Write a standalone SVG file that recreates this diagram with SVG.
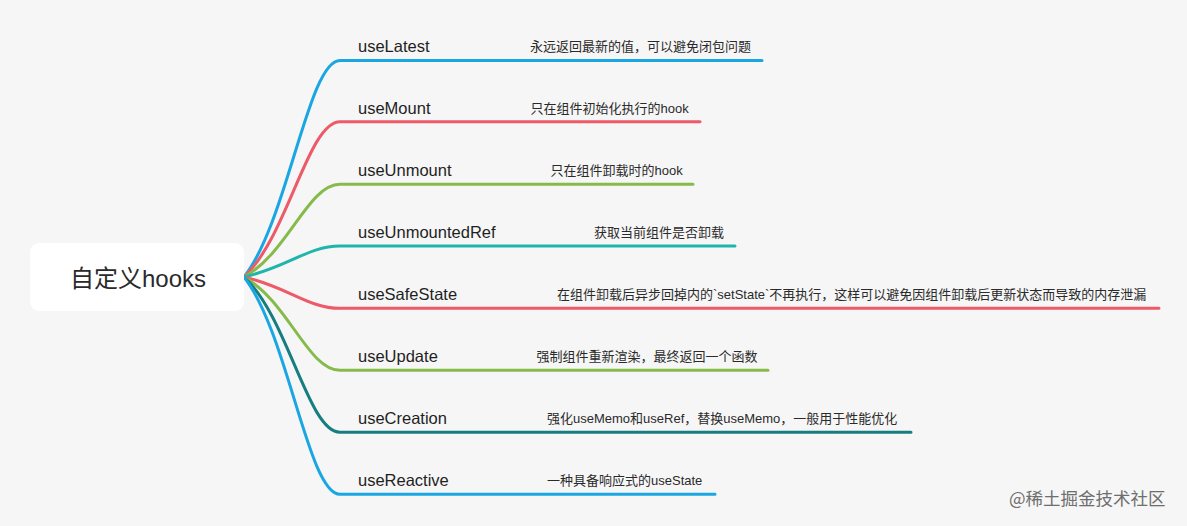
<svg xmlns="http://www.w3.org/2000/svg" width="1187" height="526" viewBox="0 0 1187 526">
  <style>
    .conn { fill: none; stroke-width: 3; stroke-linecap: round; }
    .lbl { font-family: "Liberation Sans", "Noto Sans CJK SC", sans-serif; font-size: 16.5px; fill: #1f1f1f; }
    .desc { font-family: "Liberation Sans", "Noto Sans CJK SC", sans-serif; font-size: 13px; fill: #2a2a2a; }
    .root { font-family: "Liberation Sans", "Noto Sans CJK SC", sans-serif; font-size: 24px; fill: #2a2a2a; }
    .wm { font-family: "Noto Sans CJK SC", "Liberation Sans", sans-serif; font-size: 17.5px; fill: #6e6e6e; }
  </style>
  <rect width="1187" height="526" fill="#f6f6f6"/>

  <g id="connectors">
    <path class="conn" stroke="#1aa6e3" d="M244,277 C288,221 308,60.5 340,60.5 H762"/>
    <path class="conn" stroke="#ed5a68" d="M244,277 C288,236 308,121.7 340,121.7 H700"/>
    <path class="conn" stroke="#86bb4c" d="M244,277 C288,253 308,184.3 340,184.3 H693"/>
    <path class="conn" stroke="#20b5ac" d="M244,277 C288,267 308,246 340,246 H735"/>
    <path class="conn" stroke="#ed5a68" d="M244,277 C288,287 308,308.3 340,308.3 H1159"/>
    <path class="conn" stroke="#86bb4c" d="M244,277 C288,301 308,370.3 340,370.3 H768"/>
    <path class="conn" stroke="#167e81" d="M244,277 C288,317 308,432.3 340,432.3 H911"/>
    <path class="conn" stroke="#1aa6e3" d="M244,277 C288,333 308,494.3 340,494.3 H715"/>
  </g>

  <g id="root">
    <rect x="30" y="243" width="214" height="68" rx="9" fill="#ffffff"/>
    <text class="root" x="138" y="286.5" text-anchor="middle">自定义hooks</text>
  </g>

  <g id="useLatest">
    <text class="lbl" x="358" y="52">useLatest</text>
    <text class="desc" x="530" y="51">永远返回最新的值，可以避免闭包问题</text>
  </g>
  <g id="useMount">
    <text class="lbl" x="358" y="113.5">useMount</text>
    <text class="desc" x="530.5" y="112.5">只在组件初始化执行的hook</text>
  </g>
  <g id="useUnmount">
    <text class="lbl" x="358" y="176">useUnmount</text>
    <text class="desc" x="550.5" y="175">只在组件卸载时的hook</text>
  </g>
  <g id="useUnmountedRef">
    <text class="lbl" x="358" y="237.5">useUnmountedRef</text>
    <text class="desc" x="594" y="236.5">获取当前组件是否卸载</text>
  </g>
  <g id="useSafeState">
    <text class="lbl" x="358" y="299.5">useSafeState</text>
    <text class="desc" x="557" y="298.5">在组件卸载后异步回掉内的`setState`不再执行，这样可以避免因组件卸载后更新状态而导致的内存泄漏</text>
  </g>
  <g id="useUpdate">
    <text class="lbl" x="358" y="361.7">useUpdate</text>
    <text class="desc" x="536.5" y="360.7">强制组件重新渲染，最终返回一个函数</text>
  </g>
  <g id="useCreation">
    <text class="lbl" x="358" y="424">useCreation</text>
    <text class="desc" x="547" y="423">强化useMemo和useRef，替换useMemo，一般用于性能优化</text>
  </g>
  <g id="useReactive">
    <text class="lbl" x="358" y="486">useReactive</text>
    <text class="desc" x="547" y="485">一种具备响应式的useState</text>
  </g>

  <text class="wm" x="1009" y="505">@稀土掘金技术社区</text>
</svg>
